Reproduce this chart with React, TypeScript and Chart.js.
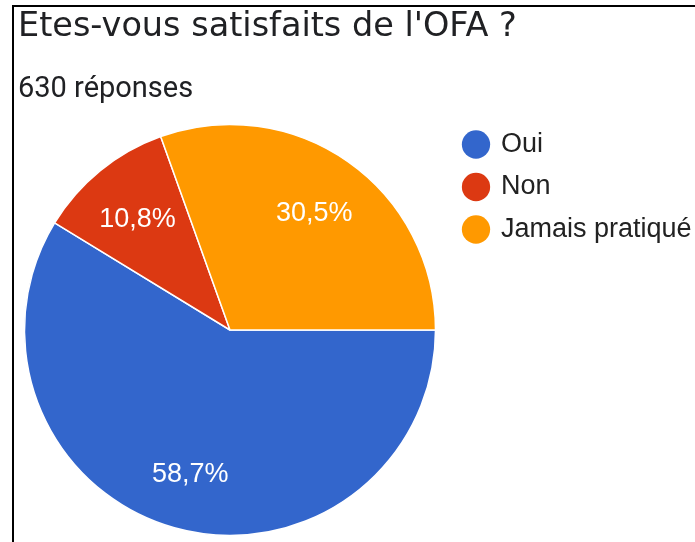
import React, { useEffect, useRef } from 'react';
import { Chart, registerables } from 'chart.js';

Chart.register(...registerables);

// ---- data ----
const chartTitle = "Etes-vous satisfaits de l'OFA ?";
const chartSubtitle = '630 réponses';
const categories = ['Oui', 'Non', 'Jamais pratiqué'];
const responses = [370, 68, 192];
const sliceColors = ['#3366cc', '#dc3912', '#ff9900'];

const ARIAL = "'Liberation Sans', Arial, sans-serif";
const ROBOTO = "Roboto, 'Noto Sans', sans-serif";
const WIDE = "'DejaVu Sans', Roboto, sans-serif";

const sliceLabels = {
  id: 'sliceLabels',
  afterDatasetsDraw(chart: any) {
    const meta = chart.getDatasetMeta(0);
    const values: number[] = chart.data.datasets[0].data;
    const total = values.reduce((a, b) => a + b, 0);
    const ctx = chart.ctx;
    ctx.save();
    ctx.fillStyle = '#ffffff';
    ctx.font = `27px ${ARIAL}`;
    ctx.textAlign = 'center';
    ctx.textBaseline = 'middle';
    meta.data.forEach((arc: any, i: number) => {
      const { x, y, startAngle, endAngle, outerRadius } = arc.getProps(
        ['x', 'y', 'startAngle', 'endAngle', 'outerRadius'],
        true
      );
      const mid = (startAngle + endAngle) / 2;
      const r = outerRadius * 0.713;
      const txt = ((values[i] / total) * 100).toFixed(1).replace('.', ',') + '%';
      ctx.fillText(txt, x + Math.cos(mid) * r, y + Math.sin(mid) * r + 3.5);
    });
    ctx.restore();
  },
};

export default function App() {
  const ref = useRef<HTMLCanvasElement>(null);

  useEffect(() => {
    const canvas = ref.current;
    if (!canvas) return;
    const m = document.createElement('canvas').getContext('2d')!;
    m.font = `27px ${ARIAL}`;
    const widest = Math.max(...categories.map((c) => m.measureText(c).width));
    const legendPad = 22.5;
    const boxW = 23;
    const legendLeft = 442;
    const legendWidth = legendPad + boxW + 13.5 + widest + 10;
    const W = Math.ceil(legendLeft + legendWidth) + 2;
    const H = 560;
    canvas.width = W;
    canvas.height = H;
    canvas.style.width = W + 'px';
    canvas.style.height = H + 'px';
    const rightPad = W - (legendLeft + legendWidth);

    const chart = new Chart(canvas, {
      type: 'pie',
      data: {
        labels: categories,
        datasets: [
          {
            data: responses,
            backgroundColor: sliceColors,
            borderColor: '#ffffff',
            borderWidth: 1.5,
          },
        ],
      },
      options: {
        responsive: false,
        animation: false,
        devicePixelRatio: 1,
        rotation: 90,
        radius: 205.5,
        layout: { padding: { left: 18, top: 0, right: rightPad, bottom: 8.5 } },
        plugins: {
          tooltip: { enabled: false },
          title: {
            display: true,
            text: chartTitle,
            align: 'start',
            color: '#202124',
            font: { family: WIDE, size: 33.5, weight: 'normal', lineHeight: 1.2 },
            padding: { top: 7, bottom: 0 },
          },
          subtitle: {
            display: true,
            text: chartSubtitle,
            align: 'start',
            color: '#202124',
            font: { family: ROBOTO, size: 29, weight: 'normal', lineHeight: 1.2 },
            padding: { top: 24.9, bottom: 1.6 },
          },
          legend: {
            display: true,
            position: 'right',
            align: 'start',
            fullSize: false,
            labels: {
              usePointStyle: true,
              pointStyle: 'circle',
              boxWidth: boxW,
              boxHeight: 20,
              padding: legendPad,
              color: '#222222',
              font: { family: ARIAL, size: 27, lineHeight: 20 / 27 },
              generateLabels: (ch: any) =>
                ch.data.labels.map((label: string, i: number) => ({
                  text: [label],
                  fillStyle: ch.data.datasets[0].backgroundColor[i],
                  strokeStyle: ch.data.datasets[0].backgroundColor[i],
                  lineWidth: 0,
                  pointStyle: 'circle',
                  fontColor: '#222222',
                  hidden: false,
                  index: i,
                })),
            },
          },
        },
      } as any,
      plugins: [sliceLabels],
    });
    return () => chart.destroy();
  }, []);

  return (
    <div
      style={{
        position: 'absolute',
        left: 0,
        top: 0,
        width: 695,
        height: 542,
        overflow: 'hidden',
        background: '#ffffff',
      }}
    >
      <div
        style={{
          position: 'absolute',
          left: 12,
          top: 5,
          width: 800,
          height: 700,
          borderLeft: '2px solid #000',
          borderTop: '2px solid #000',
        }}
      />
      <canvas ref={ref} style={{ position: 'absolute', left: 0, top: 0 }} />
    </div>
  );
}
